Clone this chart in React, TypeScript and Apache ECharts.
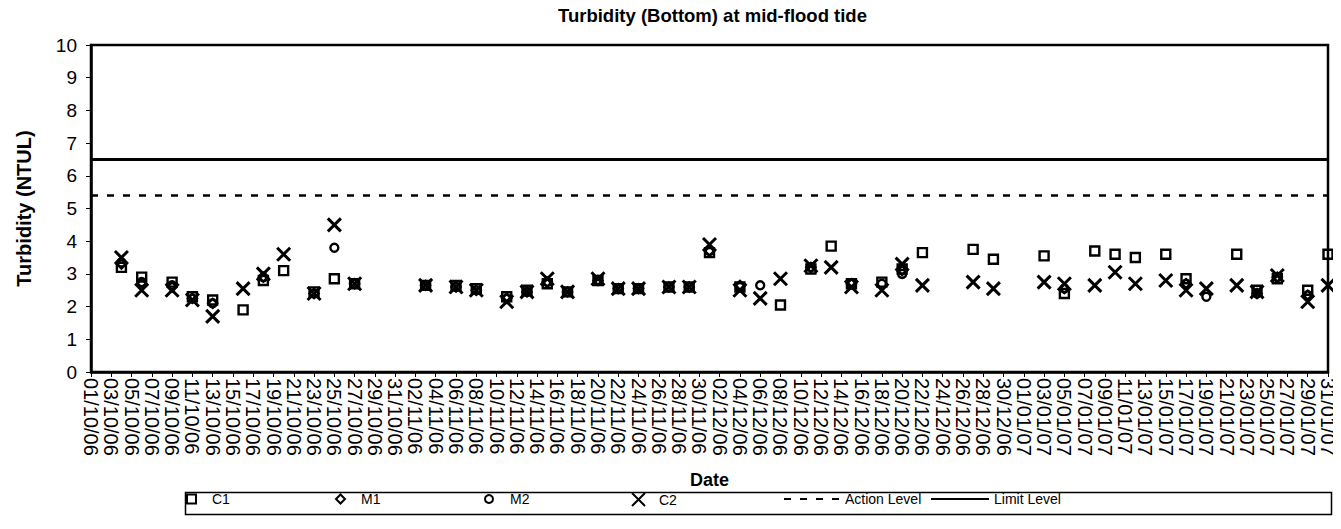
import { useEffect, useRef } from "react";
import * as echarts from "echarts";

const TITLE = "Turbidity (Bottom) at mid-flood tide";
const Y_NAME = "Turbidity (NTUL)";
const X_NAME = "Date";

// Every day on the axis, 01/10/06 .. 31/01/07 (labels shown every other day)
function buildDays(): string[] {
  const out: string[] = [];
  const dt = new Date(Date.UTC(2006, 9, 1));
  const end = Date.UTC(2007, 0, 31);
  while (dt.getTime() <= end) {
    const dd = String(dt.getUTCDate()).padStart(2, "0");
    const mm = String(dt.getUTCMonth() + 1).padStart(2, "0");
    const yy = String(dt.getUTCFullYear() % 100).padStart(2, "0");
    out.push(`${dd}/${mm}/${yy}`);
    dt.setUTCDate(dt.getUTCDate() + 1);
  }
  return out;
}
const DAYS = buildDays();

const SAMPLE_DATES = [
  "04/10/06", "06/10/06", "09/10/06", "11/10/06", "13/10/06", "16/10/06", "18/10/06", "20/10/06", "23/10/06", "25/10/06", "27/10/06",
  "03/11/06", "06/11/06", "08/11/06", "11/11/06", "13/11/06", "15/11/06", "17/11/06", "20/11/06", "22/11/06", "24/11/06", "27/11/06", "29/11/06",
  "01/12/06", "04/12/06", "06/12/06", "08/12/06", "11/12/06", "13/12/06", "15/12/06", "18/12/06", "20/12/06", "22/12/06", "27/12/06", "29/12/06",
  "03/01/07", "05/01/07", "08/01/07", "10/01/07", "12/01/07", "15/01/07", "17/01/07", "19/01/07", "22/01/07", "24/01/07", "26/01/07", "29/01/07", "31/01/07",
];

const C1 = [
  3.2, 2.9, 2.75, 2.3, 2.2, 1.9, 2.8, 3.1, 2.45, 2.85, 2.7,
  2.65, 2.65, 2.55, 2.3, 2.5, 2.7, 2.45, 2.8, 2.55, 2.55, 2.6, 2.6,
  3.65, 2.6, null, 2.05, 3.15, 3.85, 2.7, 2.75, 3.15, 3.65, 3.75, 3.45,
  3.55, 2.4, 3.7, 3.6, 3.5, 3.6, 2.85, null, 3.6, 2.5, 2.85, 2.5, 3.6,
];
const M1 = [
  3.3, 2.7, 2.6, 2.25, 2.1, null, 2.9, null, 2.4, null, 2.7,
  2.65, 2.6, 2.5, 2.25, 2.45, 2.75, 2.45, 2.8, 2.55, 2.55, 2.6, 2.6,
  3.7, 2.65, null, null, 3.2, null, 2.7, null, 3.1, null, null, null,
  null, 2.55, null, null, null, null, 2.7, null, null, 2.4, 2.9, 2.35, null,
];
const M2 = [
  3.35, 2.75, 2.65, 2.25, 2.1, null, 2.9, null, 2.4, 3.8, 2.7,
  2.65, 2.6, 2.5, 2.25, 2.45, 2.75, 2.45, 2.8, 2.55, 2.55, 2.6, 2.6,
  3.7, 2.6, 2.65, null, 3.2, null, 2.7, 2.7, 3.0, null, null, null,
  null, 2.55, null, null, null, null, 2.7, 2.3, null, 2.4, 2.9, 2.35, null,
];
const C2 = [
  3.5, 2.5, 2.5, 2.2, 1.7, 2.55, 3.0, 3.6, 2.4, 4.5, 2.7,
  2.65, 2.6, 2.5, 2.15, 2.45, 2.85, 2.45, 2.85, 2.55, 2.55, 2.6, 2.6,
  3.9, 2.5, 2.25, 2.85, 3.25, 3.2, 2.6, 2.5, 3.3, 2.65, 2.75, 2.55,
  2.75, 2.7, 2.65, 3.05, 2.7, 2.8, 2.5, 2.55, 2.65, 2.45, 2.95, 2.15, 2.65,
];

const ACTION_LEVEL = 5.4;
const LIMIT_LEVEL = 6.5;

const FONT = "Liberation Sans, Arial, sans-serif";
const X_SYMBOL = "path://M0,0L10,10M10,0L0,10";

function pairs(vals: (number | null)[]) {
  const out: [string, number][] = [];
  SAMPLE_DATES.forEach((d, i) => {
    const v = vals[i];
    if (v != null) out.push([d, v]);
  });
  return out;
}

const hollow = (bw: number) => ({
  color: "rgba(0,0,0,0)",
  borderColor: "#000",
  borderWidth: bw,
  opacity: 1,
});

export default function App() {
  const ref = useRef<HTMLDivElement>(null);
  useEffect(() => {
    if (!ref.current) return;
    const chart = echarts.init(ref.current, undefined, { renderer: "svg" });
    const legendBase = {
      top: 492,
      padding: 0,
      itemGap: 0,
      selectedMode: false,
    };
    const txt = (padLeft: number) => ({
      fontSize: 14,
      fontFamily: FONT,
      color: "#000",
      padding: [0, 0, 0, padLeft],
    });
    chart.setOption({
      animation: false,
      backgroundColor: "#fff",
      title: {
        text: TITLE,
        left: 553,
        top: 1,
        textStyle: { fontSize: 18.5, fontWeight: "bold", fontFamily: FONT, color: "#000" },
      },
      legend: [
        { ...legendBase, left: 186, itemWidth: 9, itemHeight: 9, textStyle: txt(11), data: ["C1"] },
        { ...legendBase, left: 335, itemWidth: 9, itemHeight: 9, textStyle: txt(11), data: ["M1"] },
        { ...legendBase, left: 484, itemWidth: 8, itemHeight: 8, textStyle: txt(12), data: ["M2"] },
        { ...legendBase, left: 631, itemWidth: 13, itemHeight: 13, textStyle: txt(9), data: ["C2"] },
        { ...legendBase, left: 783, itemWidth: 56, itemHeight: 10, textStyle: txt(0), itemStyle: { opacity: 0 }, data: ["Action Level"] },
        { ...legendBase, left: 930, itemWidth: 58, itemHeight: 10, textStyle: txt(0), itemStyle: { opacity: 0 }, data: ["Limit Level"] },
      ],
      graphic: [
        {
          type: "rect",
          left: 183,
          top: 490,
          shape: { width: 1146, height: 22 },
          style: { fill: "none", stroke: "#000", lineWidth: 1.5 },
        },
      ],
      grid: {
        left: 91,
        right: 13,
        top: 45,
        bottom: 157,
        show: true,
        borderColor: "#000",
        borderWidth: 2.5,
      },
      xAxis: {
        type: "category",
        data: DAYS,
        boundaryGap: false,
        name: X_NAME,
        nameLocation: "middle",
        nameGap: 99,
        nameTextStyle: { fontSize: 18, fontWeight: "bold", fontFamily: FONT, color: "#000" },
        axisLine: { lineStyle: { color: "#000", width: 2.5 } },
        axisTick: { show: true, interval: 1, length: 5, lineStyle: { color: "#000", width: 1 } },
        axisLabel: {
          interval: 1,
          rotate: -90,
          margin: 6,
          fontSize: 20,
          fontFamily: FONT,
          color: "#000",
        },
        splitLine: { show: false },
      },
      yAxis: {
        type: "value",
        min: 0,
        max: 10,
        interval: 1,
        name: Y_NAME,
        nameLocation: "middle",
        nameRotate: 90,
        nameGap: 57,
        nameTextStyle: { fontSize: 20, fontWeight: "bold", fontFamily: FONT, color: "#000" },
        axisLine: { show: true, lineStyle: { color: "#000", width: 2.5 } },
        axisTick: { show: true, length: 5, lineStyle: { color: "#000", width: 1 } },
        axisLabel: { fontSize: 19, fontFamily: FONT, color: "#000", margin: 14 },
        splitLine: { show: false },
      },
      series: [
        {
          name: "Limit Level",
          type: "line",
          data: [[DAYS[0], LIMIT_LEVEL], [DAYS[DAYS.length - 1], LIMIT_LEVEL]],
          symbol: "none",
          lineStyle: { color: "#000", width: 3, type: "solid" },
          itemStyle: { color: "#000" },
        },
        {
          name: "Action Level",
          type: "line",
          data: [[DAYS[0], ACTION_LEVEL], [DAYS[DAYS.length - 1], ACTION_LEVEL]],
          symbol: "none",
          lineStyle: { color: "#000", width: 2.5, type: [7, 9] },
          itemStyle: { color: "#000" },
        },
        {
          name: "C1",
          type: "scatter",
          data: pairs(C1),
          symbol: "rect",
          symbolSize: 9,
          itemStyle: hollow(2.4),
        },
        {
          name: "M1",
          type: "scatter",
          data: pairs(M1),
          symbol: "diamond",
          symbolSize: 9,
          itemStyle: hollow(2.4),
        },
        {
          name: "M2",
          type: "scatter",
          data: pairs(M2),
          symbol: "circle",
          symbolSize: 8,
          itemStyle: hollow(2.4),
        },
        {
          name: "C2",
          type: "scatter",
          data: pairs(C2),
          symbol: X_SYMBOL,
          symbolSize: 13,
          itemStyle: hollow(3),
        },
      ],
    });
    return () => chart.dispose();
  }, []);
  return <div ref={ref} style={{ width: 1341, height: 529, marginLeft: -8, marginTop: -8 }} />;
}
